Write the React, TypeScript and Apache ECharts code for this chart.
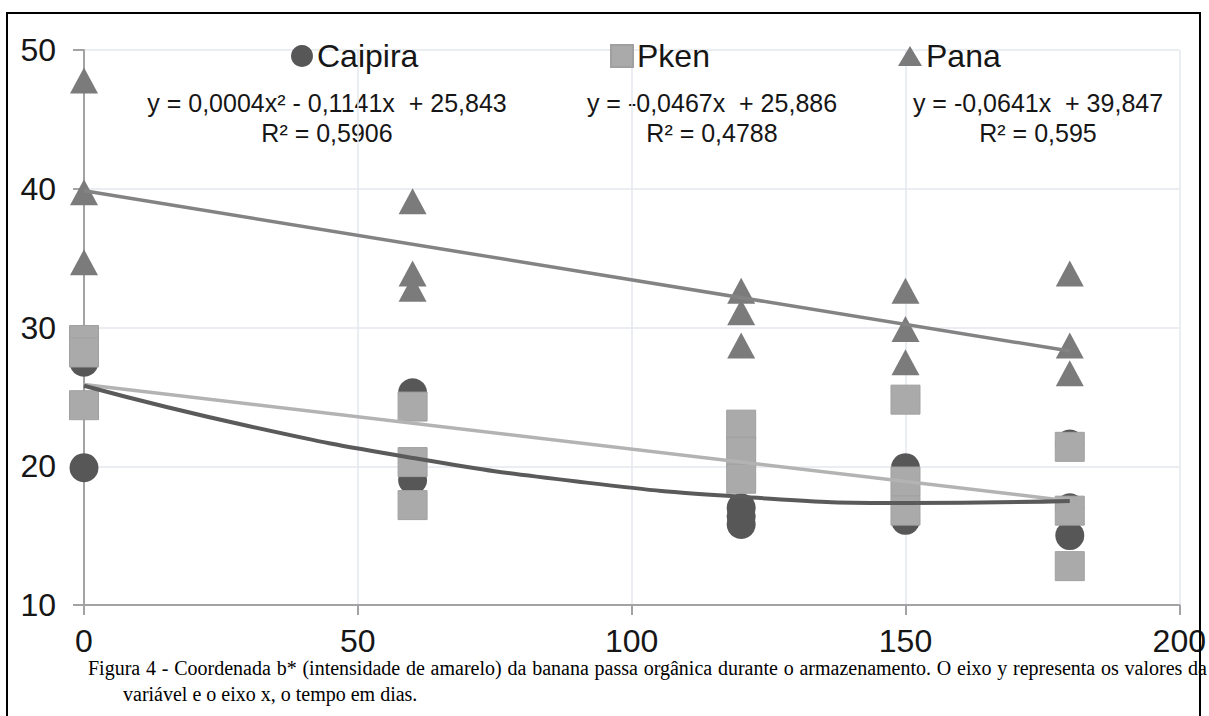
import React, { useEffect, useRef } from "react";
import * as echarts from "echarts";

// ---- data ----
const seriesNames = ["Caipira", "Pken", "Pana"];
const xTickValues = [0, 50, 100, 150, 200];
const yTickValues = [10, 20, 30, 40, 50];

// [day, b*]
const caipiraPoints = [
  [0, 27.5], [0, 19.9],
  [60, 25.3], [60, 19.0],
  [120, 17.0], [120, 16.4], [120, 15.8],
  [150, 19.9], [150, 16.1],
  [180, 21.6], [180, 17.0], [180, 15.0],
];
const pkenPoints = [
  [0, 29.1], [0, 28.2], [0, 24.4],
  [60, 24.3], [60, 20.3], [60, 17.2],
  [120, 23.0], [120, 21.05], [120, 19.1],
  [150, 24.8], [150, 18.9], [150, 16.8],
  [180, 21.4], [180, 16.8], [180, 12.8],
];
const panaPoints = [
  [0, 47.8], [0, 39.75], [0, 34.7],
  [60, 39.1], [60, 33.9], [60, 32.8],
  [120, 32.65], [120, 31.1], [120, 28.7],
  [150, 32.65], [150, 29.9], [150, 27.5],
  [180, 33.9], [180, 28.7], [180, 26.7],
];

// trend lines
const caipiraTrend = [[0, 25.8], [30, 22.9], [60, 20.6], [90, 18.9], [120, 17.8], [150, 17.35], [180, 17.5]];
const pkenTrend = [[0, 25.9], [180, 17.5]];
const panaTrend = [[0, 39.85], [180, 28.3]];

const equations = [
  "y = 0,0004x² - 0,1141x  + 25,843",
  "y = -0,0467x  + 25,886",
  "y = -0,0641x  + 39,847",
];
const rSquared = ["R² = 0,5906", "R² = 0,4788", "R² = 0,595"];

const captionLine1 =
  "Figura 4 - Coordenada b* (intensidade de amarelo) da banana passa orgânica durante o armazenamento. O eixo y representa os valores da";
const captionLine2 = "variável e o eixo x, o tempo em dias.";

// ---- styling ----
const W = 1209;
const H = 716;
const SANS = '"Liberation Sans", Arial, sans-serif';
const SERIF = '"Liberation Serif", "Times New Roman", serif';
const TEXT = "#161616";
const C_CAIPIRA = "#575757";
const C_PKEN = "#aaaaaa";
const C_PANA = "#7b7b7b";
const GRID = "#e3e7ec";
const AXIS = "#a3a3a3";

export default function App() {
  const ref = useRef<HTMLDivElement>(null);

  useEffect(() => {
    if (!ref.current) return;
    const chart = echarts.init(ref.current, undefined, { renderer: "svg", width: W, height: H });

    // justified first caption line
    const capLeft = 88;
    const capRight = 1207;
    const ctx = document.createElement("canvas").getContext("2d")!;
    let capSize = 20;
    for (; capSize > 15; capSize -= 0.5) {
      ctx.font = `${capSize}px "Liberation Serif"`;
      if (ctx.measureText(captionLine1).width <= capRight - capLeft) break;
    }
    ctx.font = `${capSize}px "Liberation Serif"`;
    const words = captionLine1.split(" ");
    const widths = words.map((w) => ctx.measureText(w).width);
    const total = widths.reduce((a, b) => a + b, 0);
    const gap = (capRight - capLeft - total) / (words.length - 1);
    let cx = capLeft;
    const captionWords: any[] = words.map((w, i) => {
      const el = {
        type: "text",
        x: cx,
        y: 668,
        style: { text: w, fontSize: capSize, fontFamily: SERIF, fill: "#000", verticalAlign: "middle", align: "left" },
      };
      cx += widths[i] + gap;
      return el;
    });

    const eqCenters = [327, 712, 1038];
    const eqTexts: any[] = [];
    equations.forEach((t, i) => {
      eqTexts.push({
        type: "text",
        x: eqCenters[i],
        y: 103,
        style: { text: t, fontSize: 25, fontFamily: SANS, fill: TEXT, align: "center", verticalAlign: "middle" },
      });
      eqTexts.push({
        type: "text",
        x: eqCenters[i],
        y: 133,
        style: { text: rSquared[i], fontSize: 25, fontFamily: SANS, fill: TEXT, align: "center", verticalAlign: "middle" },
      });
    });

    const legendBase = {
      top: 35,
      itemGap: 0,
      textStyle: { fontSize: 32, fontFamily: SANS, color: TEXT, padding: [0, 0, 0, -1] },
      selectedMode: false,
    };

    chart.setOption({
      animation: false,
      backgroundColor: "#ffffff",
      grid: { left: 84, right: 29, top: 50, bottom: 111, containLabel: false },
      legend: [
        { ...legendBase, left: 286, data: [{ name: seriesNames[0], icon: "circle" }], itemWidth: 22, itemHeight: 22 },
        { ...legendBase, left: 605, data: [{ name: seriesNames[1], icon: "rect" }], itemWidth: 22, itemHeight: 22 },
        { ...legendBase, left: 893, data: [{ name: seriesNames[2], icon: "triangle" }], itemWidth: 24, itemHeight: 20 },
      ],
      xAxis: {
        type: "value",
        min: xTickValues[0],
        max: xTickValues[xTickValues.length - 1],
        interval: xTickValues[1] - xTickValues[0],
        axisLine: { show: true, lineStyle: { color: AXIS, width: 2 } },
        axisTick: { show: true, length: 10, lineStyle: { color: AXIS, width: 2 } },
        axisLabel: { fontSize: 32, fontFamily: SANS, color: TEXT, margin: 20 },
        splitLine: { show: true, lineStyle: { color: GRID, width: 1.5 } },
      },
      yAxis: {
        type: "value",
        min: yTickValues[0],
        max: yTickValues[yTickValues.length - 1],
        interval: yTickValues[1] - yTickValues[0],
        axisLine: { show: true, onZero: false, lineStyle: { color: AXIS, width: 2 } },
        axisTick: { show: true, length: 11, lineStyle: { color: AXIS, width: 2 } },
        axisLabel: { fontSize: 32, fontFamily: SANS, color: TEXT, margin: 28 },
        splitLine: { show: true, lineStyle: { color: GRID, width: 1.5 } },
      },
      series: [
        {
          name: seriesNames[0],
          type: "scatter",
          data: caipiraPoints,
          symbol: "circle",
          symbolSize: 29,
          itemStyle: { color: C_CAIPIRA, opacity: 1 },
          z: 2,
        },
        {
          name: seriesNames[1],
          type: "scatter",
          data: pkenPoints,
          symbol: "rect",
          symbolSize: 29,
          itemStyle: { color: C_PKEN, borderColor: "#a0a0a0", borderWidth: 1, opacity: 1 },
          z: 2,
        },
        {
          name: seriesNames[2],
          type: "scatter",
          data: panaPoints,
          symbol: "triangle",
          symbolSize: [28, 26],
          itemStyle: { color: C_PANA, opacity: 1 },
          z: 2,
        },
        {
          name: "trend-pana",
          type: "line",
          data: panaTrend,
          showSymbol: false,
          symbol: "none",
          lineStyle: { color: "#838383", width: 3.5 },
          z: 3,
          silent: true,
        },
        {
          name: "trend-pken",
          type: "line",
          data: pkenTrend,
          showSymbol: false,
          symbol: "none",
          lineStyle: { color: "#b3b3b3", width: 3.5 },
          z: 3,
          silent: true,
        },
        {
          name: "trend-caipira",
          type: "line",
          data: caipiraTrend,
          smooth: 0.5,
          showSymbol: false,
          symbol: "none",
          lineStyle: { color: "#5a5a5a", width: 4 },
          z: 3,
          silent: true,
        },
      ],
      graphic: [
        {
          type: "rect",
          shape: { x: 7, y: 13, width: 1193, height: 760 },
          style: { fill: "none", stroke: "#000", lineWidth: 2 },
          silent: true,
          z: 10,
        },
        ...eqTexts,
        ...captionWords,
        {
          type: "text",
          x: 123,
          y: 694,
          style: { text: captionLine2, fontSize: capSize, fontFamily: SERIF, fill: "#000", verticalAlign: "middle", align: "left" },
        },
      ],
    });

    return () => chart.dispose();
  }, []);

  return (
    <div
      ref={ref}
      style={{ position: "fixed", left: 0, top: 0, width: W, height: H, background: "#fff" }}
    />
  );
}
